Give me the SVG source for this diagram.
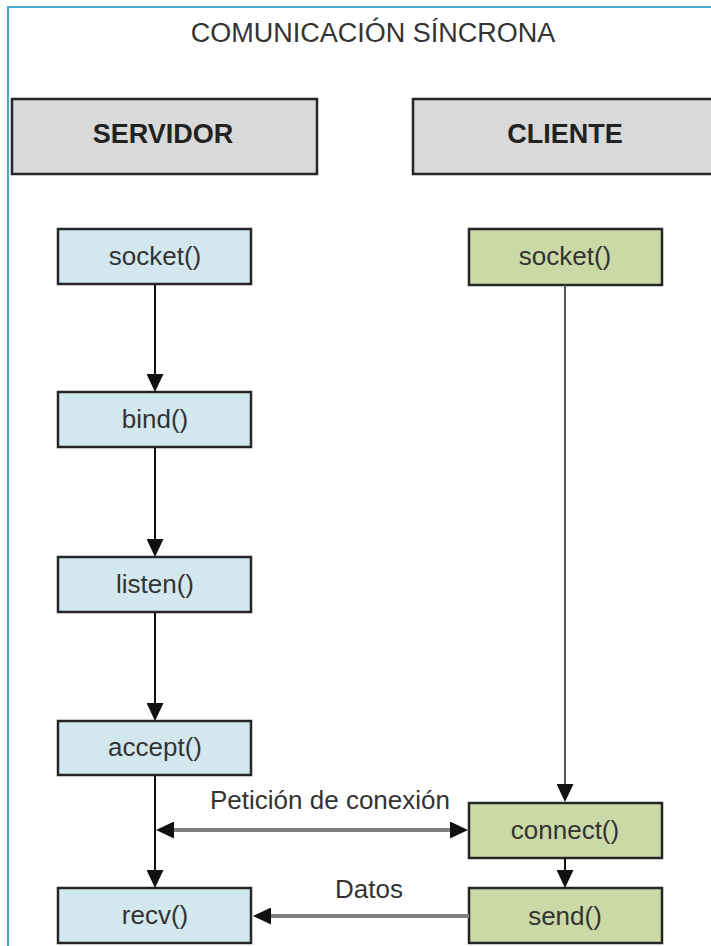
<svg xmlns="http://www.w3.org/2000/svg" width="711" height="946" viewBox="0 0 711 946">
  <style>
    .frame { fill: none; stroke: #45aacc; stroke-width: 2; }
    .title { font-family: "Liberation Sans", Arial, sans-serif; font-size: 27px; fill: #333; text-anchor: middle; }
    .head rect { fill: #d9d9d9; stroke: #262626; stroke-width: 2.5; }
    .head text { font-family: "Liberation Sans", Arial, sans-serif; font-size: 27px; font-weight: bold; fill: #222; text-anchor: middle; }
    .srv rect { fill: #d3e8ee; stroke: #262626; stroke-width: 2.5; }
    .cli rect { fill: #cbd9a7; stroke: #262626; stroke-width: 2.5; }
    .node text { font-family: "Liberation Sans", Arial, sans-serif; font-size: 26px; fill: #333; text-anchor: middle; }
    .flow { stroke: #111; stroke-width: 2; fill: none; }
    .flow-c { stroke: #555; stroke-width: 2; fill: none; }
    .msg { stroke: #808080; stroke-width: 4; fill: none; }
    .lbl { font-family: "Liberation Sans", Arial, sans-serif; font-size: 26px; fill: #333; text-anchor: middle; }
  </style>
  <defs>
    <marker id="arrow" markerUnits="userSpaceOnUse" markerWidth="18" markerHeight="17" refX="10" refY="8.5" orient="auto-start-reverse" viewBox="0 0 18 17">
      <path d="M0,0 L18,8.5 L0,17 z" fill="#111"/>
    </marker>
  </defs>

  <rect width="711" height="946" fill="#fff"/>
  <rect class="frame" x="8" y="7" width="720" height="960"/>

  <text class="title" x="373" y="42">COMUNICACIÓN SÍNCRONA</text>

  <g id="servidor" class="head">
    <rect x="12" y="99" width="305" height="75"/>
    <text x="163" y="143">SERVIDOR</text>
  </g>
  <g id="cliente" class="head">
    <rect x="413" y="99" width="320" height="75"/>
    <text x="565" y="143">CLIENTE</text>
  </g>

  <!-- server calls -->
  <g id="s-socket" class="node srv">
    <rect x="58" y="229" width="193" height="55"/>
    <text x="155" y="265">socket()</text>
  </g>
  <g id="s-bind" class="node srv">
    <rect x="58" y="392" width="193" height="55"/>
    <text x="155" y="428">bind()</text>
  </g>
  <g id="s-listen" class="node srv">
    <rect x="58" y="557" width="193" height="55"/>
    <text x="155" y="593">listen()</text>
  </g>
  <g id="s-accept" class="node srv">
    <rect x="58" y="721" width="193" height="54"/>
    <text x="155" y="756">accept()</text>
  </g>
  <g id="s-recv" class="node srv">
    <rect x="58" y="888" width="193" height="55"/>
    <text x="155" y="924">recv()</text>
  </g>

  <!-- client calls -->
  <g id="c-socket" class="node cli">
    <rect x="469" y="229" width="193" height="56"/>
    <text x="565" y="265">socket()</text>
  </g>
  <g id="c-connect" class="node cli">
    <rect x="469" y="803" width="193" height="55"/>
    <text x="565" y="839">connect()</text>
  </g>
  <g id="c-send" class="node cli">
    <rect x="469" y="888" width="193" height="55"/>
    <text x="565" y="925">send()</text>
  </g>

  <g id="connectors">
    <line class="flow" x1="155" y1="284" x2="155" y2="384" marker-end="url(#arrow)"/>
    <line class="flow" x1="155" y1="447" x2="155" y2="549" marker-end="url(#arrow)"/>
    <line class="flow" x1="155" y1="612" x2="155" y2="713" marker-end="url(#arrow)"/>
    <line class="flow" x1="155" y1="775" x2="155" y2="880" marker-end="url(#arrow)"/>
    <line class="flow-c" x1="565" y1="285" x2="565" y2="794" marker-end="url(#arrow)"/>
    <line class="flow" x1="565" y1="858" x2="565" y2="880" marker-end="url(#arrow)"/>
    <line class="msg" x1="164" y1="830" x2="460" y2="830" marker-start="url(#arrow)" marker-end="url(#arrow)"/>
    <line class="msg" x1="469" y1="916" x2="261" y2="916" marker-end="url(#arrow)"/>
    <text class="lbl" x="330" y="809">Petición de conexión</text>
    <text class="lbl" x="369" y="898">Datos</text>
  </g>
</svg>
